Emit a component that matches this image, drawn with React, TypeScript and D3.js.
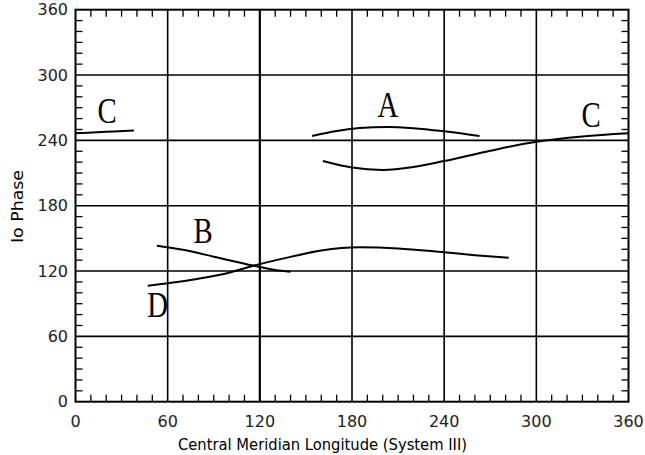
import React, { useEffect, useRef } from "react";
import * as d3 from "d3";

// curves: [longitude, io phase]
const curveA = [[154, 244], [170, 248.5], [185, 251.3], [203, 252.3], [220, 251.2], [240, 248.3], [263, 244]];
const curveC = [[161, 221], [180, 215], [200, 212.8], [220, 215.5], [240, 221], [270, 230.5], [300, 238.8], [330, 243.6], [360, 246.5]];
const curveCwrap = [[0, 246.5], [20, 247.8], [38, 249]];
const curveB = [[53, 143.3], [70, 139.5], [90, 133.2], [115.7, 125], [130, 121], [140, 119.4]];
const curveD = [[47, 106.5], [60, 108.7], [80, 113], [100, 118.5], [116, 124.9], [140, 133], [160, 138.8], [185, 141.8], [210, 140.8], [240, 137.2], [260, 134.6], [282, 132.2]];

const labels = [
  { t: "A", x: 203.4, y: 261.5 },
  { t: "C", x: 20.5, y: 256 },
  { t: "B", x: 83, y: 145.7 },
  { t: "D", x: 53.4, y: 77.8 },
  { t: "C", x: 335.6, y: 252.3 },
];

const xTicks = [0, 60, 120, 180, 240, 300, 360];
const yTicks = [0, 60, 120, 180, 240, 300, 360];

const W = 645;
const H = 455;
const margin = { top: 9.7, right: 16.5, bottom: 53.3, left: 75.5 };

const App = () => {
  const ref = useRef<SVGSVGElement>(null);

  useEffect(() => {
    const svg = d3.select(ref.current);
    svg.selectAll("*").remove();

    const iw = W - margin.left - margin.right;
    const ih = H - margin.top - margin.bottom;

    const x = d3.scaleLinear().domain([0, 360]).range([0, iw]);
    const y = d3.scaleLinear().domain([0, 360]).range([ih, 0]);

    const g = svg.append("g").attr("transform", `translate(${margin.left},${margin.top})`);

    // grid at the major ticks
    g.selectAll(".vgrid")
      .data(xTicks.slice(1, -1))
      .join("line")
      .attr("x1", (d) => x(d))
      .attr("x2", (d) => x(d))
      .attr("y1", 0)
      .attr("y2", ih)
      .attr("stroke", "#000")
      .attr("stroke-width", (d) => (d === 120 ? 2.2 : 1.6));

    g.selectAll(".hgrid")
      .data(yTicks.slice(1, -1))
      .join("line")
      .attr("x1", 0)
      .attr("x2", iw)
      .attr("y1", (d) => y(d))
      .attr("y2", (d) => y(d))
      .attr("stroke", "#000")
      .attr("stroke-width", 1.6);

    // inward minor ticks on all four sides
    const minor = d3.range(10, 360, 10).filter((d) => d % 60 !== 0);
    const tl = 7;
    const ticks = g.append("g").attr("stroke", "#000").attr("stroke-width", 1.3);
    minor.forEach((d) => {
      ticks.append("line").attr("x1", x(d)).attr("x2", x(d)).attr("y1", ih).attr("y2", ih - tl);
      ticks.append("line").attr("x1", x(d)).attr("x2", x(d)).attr("y1", 0).attr("y2", tl);
      ticks.append("line").attr("y1", y(d)).attr("y2", y(d)).attr("x1", 0).attr("x2", tl);
      ticks.append("line").attr("y1", y(d)).attr("y2", y(d)).attr("x1", iw).attr("x2", iw - tl);
    });

    g.append("rect")
      .attr("width", iw)
      .attr("height", ih)
      .attr("fill", "none")
      .attr("stroke", "#000")
      .attr("stroke-width", 2);

    const line = d3
      .line()
      .x((d) => x(d[0]))
      .y((d) => y(d[1]))
      .curve(d3.curveMonotoneX);

    [curveA, curveC, curveCwrap, curveB, curveD].forEach((c) => {
      g.append("path")
        .datum(c)
        .attr("d", line)
        .attr("fill", "none")
        .attr("stroke", "#000")
        .attr("stroke-width", 2);
    });

    labels.forEach((l) => {
      g.append("text")
        .attr("transform", `translate(${x(l.x)},${y(l.y)}) scale(0.8,1)`)
        .attr("text-anchor", "middle")
        .attr("font-family", "'Liberation Serif', 'Times New Roman', serif")
        .attr("font-size", 36)
        .text(l.t);
    });

    const tickFont = "'DejaVu Sans', sans-serif";

    g.selectAll(".xt")
      .data(xTicks)
      .join("text")
      .attr("x", (d) => x(d))
      .attr("y", ih + 25.5)
      .attr("text-anchor", "middle")
      .attr("font-family", tickFont)
      .attr("font-size", 16)
      .attr("fill", "#222")
      .text((d) => d);

    g.selectAll(".yt")
      .data(yTicks)
      .join("text")
      .attr("x", -7.5)
      .attr("y", (d) => y(d))
      .attr("dy", "0.36em")
      .attr("text-anchor", "end")
      .attr("font-family", tickFont)
      .attr("font-size", 16)
      .attr("fill", "#222")
      .text((d) => d);

    svg.append("text")
      .attr("x", 322.5)
      .attr("y", 450)
      .attr("text-anchor", "middle")
      .attr("font-family", tickFont)
      .attr("font-size", 15.5)
      .attr("textLength", 289)
      .attr("lengthAdjust", "spacingAndGlyphs")
      .text("Central Meridian Longitude (System III)");

    svg.append("text")
      .attr("transform", `translate(23,206.5) rotate(-90)`)
      .attr("text-anchor", "middle")
      .attr("font-family", tickFont)
      .attr("font-size", 15.5)
      .attr("textLength", 73)
      .attr("lengthAdjust", "spacingAndGlyphs")
      .text("Io Phase");
  }, []);

  return (
    <svg
      ref={ref}
      width={W}
      height={H}
      style={{ position: "absolute", left: 0, top: 0, background: "#fff" }}
    ></svg>
  );
};

export default App;
